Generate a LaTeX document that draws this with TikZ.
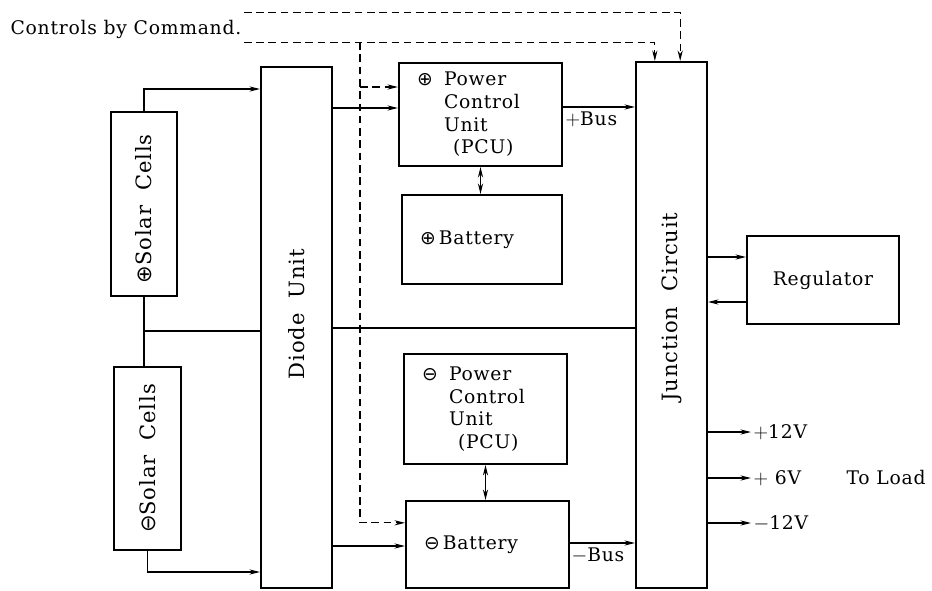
\documentclass[tikz,border=0pt]{standalone}
\usepackage{fontspec}
\usepackage{graphicx}
\setmainfont{DejaVu Serif}[LetterSpace=4]
\newfontfamily\symfont{DejaVu Sans}
\newcommand\cplus{{\symfont ⊕}}
\newcommand\cminus{{\symfont ⊖}}
\usepackage{tikz}
\usetikzlibrary{positioning,arrows.meta}
\tikzset{
  blk/.style={draw,line width=1.7pt,inner sep=0pt,font=\fontsize{16}{19.4}\selectfont},
  tall/.style={blk,font=\fontsize{18}{20}\selectfont},
  unit/.style={blk,align=left,inner xsep=0.54cm,text width=3.81cm},
  wire/.style={line width=0.9pt},
  arr/.style={wire,->},
  darr/.style={wire,<->},
  ctl/.style={wire,dash pattern=on 6.5pt off 4pt},
  lab/.style={font=\fontsize{16}{18}\selectfont,inner sep=2pt}
}

\begin{document}
\begin{tikzpicture}[x=0.03cm,y=-0.03cm,>={Stealth[length=9pt,width=4.4pt]}]
  \useasboundingbox (0,0) rectangle (932,590);
  % blocks
  \node[tall,minimum width=1.98cm,minimum height=5.52cm] (solP) at (144,204) {\rotatebox{90}{\cplus Solar\ \ Cells\hspace*{0.3cm}}};
  \node[tall,minimum width=2.01cm,minimum height=5.49cm] (solM) at (147.5,458.5) {\rotatebox{90}{\cminus Solar\ \ Cells}};
  \node[tall,minimum width=2.13cm,minimum height=15.63cm] (dio) at (296.5,327.5) {\rotatebox{90}{\hspace*{0.8cm}Diode\ \ Unit}};
  \node[tall,minimum width=2.13cm,minimum height=15.78cm] (junc) at (671.5,325) {\rotatebox{90}{\hspace*{1.08cm}Junction\ \ Circuit}};
  \node[unit,minimum height=3.09cm] (pcuP) at (480.5,114.5) {\makebox[0.81cm][l]{\cplus}Power\\ \hspace*{0.81cm}Control\\ \hspace*{0.81cm}Unit\\ \hspace*{1.08cm}(PCU)};
  \node[unit,text width=3.72cm,minimum height=2.67cm] (batP) at (482,239.5) {\cplus\,Battery};
  \node[unit,minimum height=3.3cm] (pcuM) at (485.5,409) {\makebox[0.81cm][l]{\cminus}Power\\ \hspace*{0.81cm}Control\\ \hspace*{0.81cm}Unit\\ \hspace*{1.08cm}(PCU)};
  \node[unit,minimum height=2.61cm] (batM) at (487.5,544.5) {\cminus\,Battery};
  \node[blk,minimum width=4.56cm,minimum height=2.64cm] (reg) at (823,280) {Regulator};

  % labels
  \node[lab,anchor=west] (cmd) at (8,29) {Controls by Command.};
  \node[lab,anchor=west] (pbus) at (563,119) {$+$Bus};
  \node[lab,anchor=west] (mbus) at (569,556) {$-$Bus};
  \node[lab,anchor=west] (v12p) at (751,432) {$+$12V};
  \node[lab,anchor=west] (v6p) at (751,478) {$+$\ 6V};
  \node[lab,anchor=west] (v12m) at (751,523) {$-$12V};
  \node[lab,anchor=west] (load) at (844,478) {To Load};

  % power lines
  \draw[arr] (solP.north) |- (dio.west |- 0,89);
  \draw[wire] (solP.south) -- (solP.south |- solM.north);
  \draw[wire] (solP.south |- 0,331) -- (dio.west |- 0,331);
  \draw[arr] (solM.south) |- (dio.west |- 0,572);
  \draw[arr] (dio.east |- 0,108) -- (pcuP.west |- 0,108);
  \draw[wire] (dio.east |- 0,328) -- (junc.west |- 0,328);
  \draw[arr] (dio.east |- 0,546) -- (batM.west |- 0,546);
  \draw[arr] (pcuP.east |- 0,107) -- (junc.west |- 0,107);
  \draw[arr] (batM.east |- 0,543) -- (junc.west |- 0,543);
  \draw[darr] (pcuP.south) -- (pcuP.south |- batP.north);
  \draw[darr] (pcuM.south) -- (pcuM.south |- batM.north);
  \draw[arr] (junc.east |- 0,257) -- (reg.west |- 0,257);
  \draw[arr] (reg.west |- 0,302) -- (junc.east |- 0,302);
  \foreach \v in {v12p,v6p,v12m} \draw[arr] (junc.east |- \v.west) -- (\v.west);

  % command lines
  \coordinate (cmdA) at ([yshift=0.5cm]cmd.east);
  \coordinate (cmdB) at ([yshift=-0.4cm]cmd.east);
  \coordinate (tap) at (360,42);
  \draw[ctl,->] (cmdA) -| ([xshift=0.26cm]junc.north);
  \draw[ctl,->] (cmdB) -| ([xshift=-0.5cm]junc.north);
  \draw[ctl,->] (tap) |- ([yshift=0.65cm]batM.west);
  \draw[ctl,->] (tap |- 0,87) -- (pcuP.west |- 0,87);
\end{tikzpicture}
\end{document}
